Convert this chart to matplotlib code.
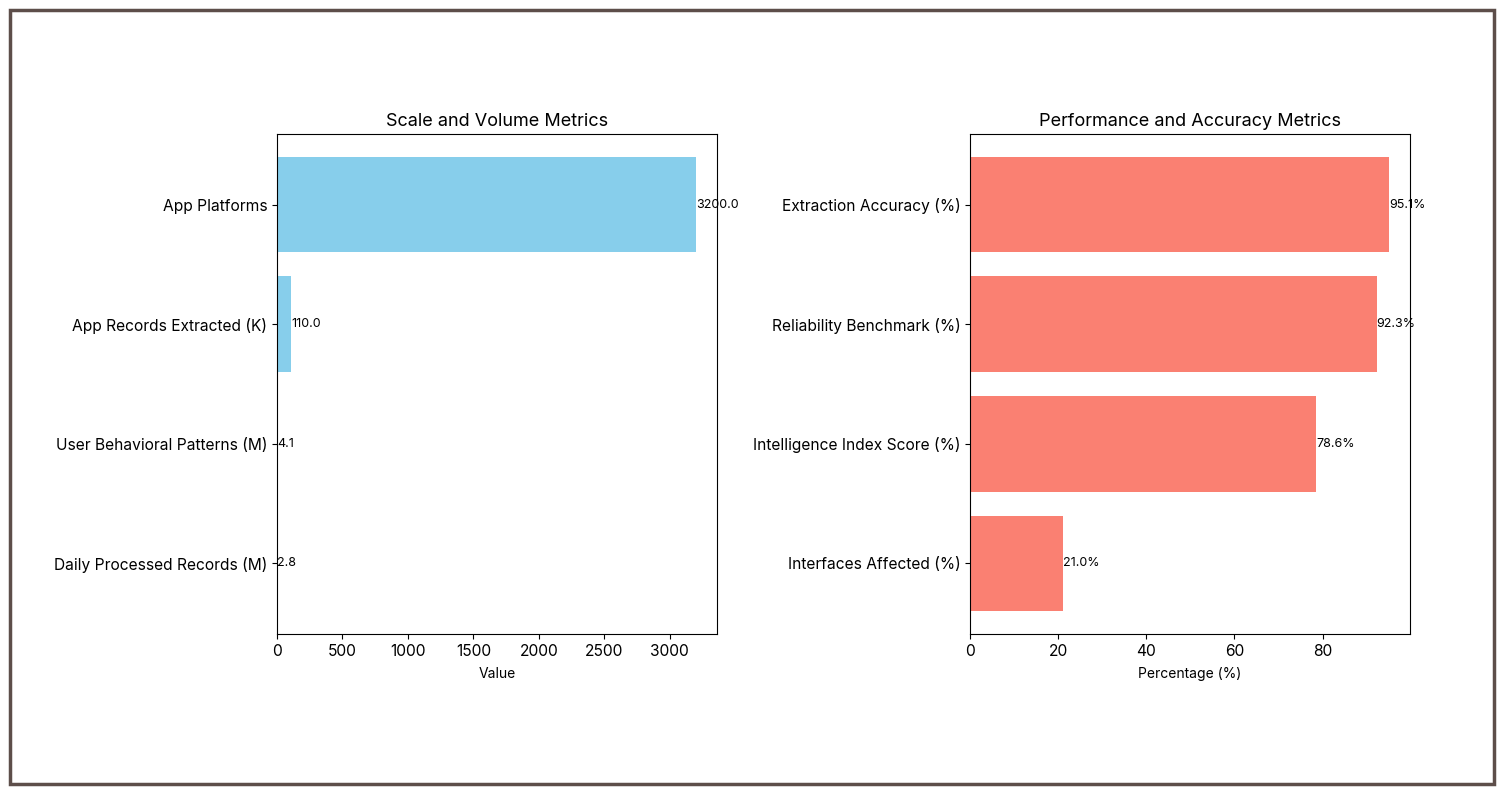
import matplotlib

matplotlib.use("Agg")
import matplotlib.pyplot as plt
from matplotlib.patches import Rectangle

plt.rcParams["font.family"] = ["Inter", "DejaVu Sans"]

scale_labels = [
    "Daily Processed Records (M)",
    "User Behavioral Patterns (M)",
    "App Records Extracted (K)",
    "App Platforms",
]
scale_values = [2.8, 4.1, 110.0, 3200.0]

perf_labels = [
    "Interfaces Affected (%)",
    "Intelligence Index Score (%)",
    "Reliability Benchmark (%)",
    "Extraction Accuracy (%)",
]
perf_values = [21.0, 78.6, 92.3, 95.1]

fig = plt.figure(figsize=(15.03, 7.93), dpi=100)
W, H = 1503, 793

ax1 = fig.add_axes([277 / W, 1 - 634 / H, 440 / W, 500 / H])
ax2 = fig.add_axes([970 / W, 1 - 634 / H, 440 / W, 500 / H])

bars = ax1.barh(scale_labels, scale_values, color="skyblue")
for b, v in zip(bars, scale_values):
    ax1.text(b.get_width(), b.get_y() + b.get_height() / 2, f"{v:.1f}",
             va="center", ha="left", fontsize=9)
ax1.set_title("Scale and Volume Metrics", fontsize=13)
ax1.set_xlabel("Value", fontsize=10, labelpad=6)
ax1.tick_params(labelsize=11.2)

bars = ax2.barh(perf_labels, perf_values, color="salmon")
for b, v in zip(bars, perf_values):
    ax2.text(b.get_width(), b.get_y() + b.get_height() / 2, f"{v:.1f}%",
             va="center", ha="left", fontsize=9)
ax2.set_title("Performance and Accuracy Metrics", fontsize=13)
ax2.set_xlabel("Percentage (%)", fontsize=10, labelpad=6)
ax2.tick_params(labelsize=11.2)

# outer frame
fig.patches.append(Rectangle((9.5 / W, 9.5 / H), 1 - 19 / W, 1 - 19 / H,
                             transform=fig.transFigure, fill=False,
                             edgecolor="#5d4e4a", linewidth=2.5))

fig.savefig("out.png", dpi=100)
plt.close(fig)
